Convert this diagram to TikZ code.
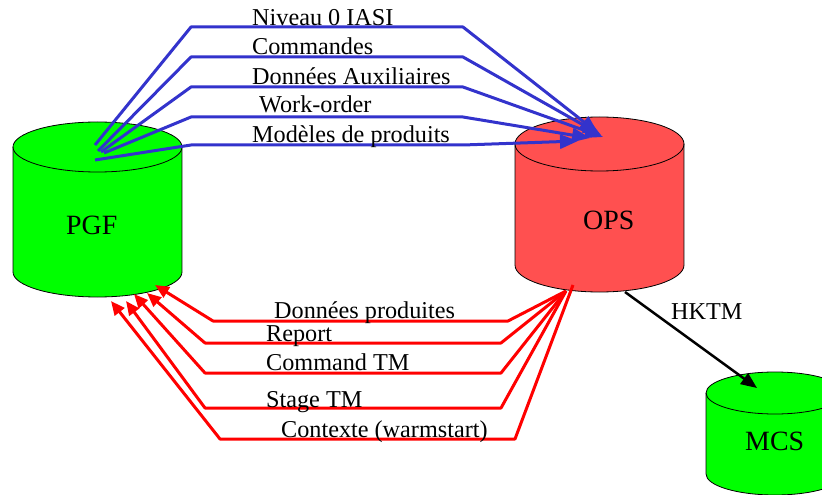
\documentclass[tikz,border=0pt]{standalone}
\usepackage{fontspec}
\setmainfont{Liberation Serif}
\usetikzlibrary{arrows.meta}
\definecolor{cgreen}{RGB}{0,255,0}
\definecolor{cops}{RGB}{255,80,80}
\definecolor{cblue}{RGB}{51,51,204}
\definecolor{cred}{RGB}{255,0,0}
% cx, top cy, bottom cy, rx, ry, colour
\newcommand\dbcyl[6]{%
  \fill[#6] ({#1-#4},#2) rectangle ({#1+#4},#3);
  \fill[#6] (#1,#3) ellipse[x radius=#4bp, y radius=#5bp];
  \fill[#6] (#1,#2) ellipse[x radius=#4bp, y radius=#5bp];
  \draw[cylline] ({#1-#4},#2) -- ({#1-#4},#3)
    arc[start angle=180, end angle=360, x radius=#4bp, y radius=#5bp] -- ({#1+#4},#2);
  \draw[cylline] (#1,#2) ellipse[x radius=#4bp, y radius=#5bp];
}
\begin{document}
\begin{tikzpicture}[x=1bp, y=-1bp, line join=round,
  lab/.style={font=\fontsize{24.3}{28}\selectfont, inner sep=0pt, anchor=base west},
  big/.style={font=\fontsize{28}{32}\selectfont, inner sep=0pt, anchor=base west},
  bluearr/.style={cblue, line width=3bp, -{Triangle[length=18bp,width=14bp]}},
  redarr/.style={cred, line width=3bp, -{Triangle[length=14bp,width=12bp]}},
  blackarr/.style={black, line width=2.5bp, -{Triangle[length=16bp,width=13bp]}},
  cylline/.style={black, line width=0.8bp}]
\useasboundingbox (0,0) rectangle (822,495);
\begin{scope}
  \clip (0,0) rectangle (822,495);
  \dbcyl{97.5}{147}{272}{84.5}{25}{cgreen}
  \dbcyl{599.5}{144}{265}{84.5}{27}{cops}
  \dbcyl{775}{393}{474}{69}{21}{cgreen}
\end{scope}
% cylinder labels
\node[big] (pgf) at (66,235) {PGF};
\node[big] (ops) at (583,230) {OPS};
\node[big] (mcs) at (745,450) {MCS};
% blue connector ends
\coordinate (p1) at (95,145);
\coordinate (p2) at (98,151);
\coordinate (p3) at (101,152);
\coordinate (p4) at (104,153);
\coordinate (p5) at (95,160);
\coordinate (o1) at (598,133);
\coordinate (o2) at (601,135);
\coordinate (o3) at (603,137);
\coordinate (o4) at (590,138);
\coordinate (o5) at (578,141);
\draw[bluearr] (p1) -- (191,27) -- (463,27) -- (o1);
\draw[bluearr] (p2) -- (191,57) -- (463,57) -- (o2);
\draw[bluearr] (p3) -- (191,87) -- (463,87) -- (o3);
\draw[bluearr] (p4) -- (191,117) -- (463,117) -- (o4);
\draw[bluearr] (p5) -- (191,145) -- (463,145) -- (o5);
\node[lab] (l1) at (252,26) {Niveau 0 IASI};
\node[lab] (l2) at (252,55) {Commandes};
\node[lab] (l3) at (252,85) {Données Auxiliaires};
\node[lab] (l4) at (259,113) {Work-order};
\node[lab] (l5) at (252,143) {Modèles de produits};
% red connector ends
\coordinate (ob) at (566,291);
\coordinate (ob5) at (573,285);
\coordinate (q1) at (155,285);
\coordinate (q2) at (147,293);
\coordinate (q3) at (134,294);
\coordinate (q4) at (126,301);
\coordinate (q5) at (111,301);
\draw[redarr] (ob) -- (508,321) -- (213,321) -- (q1);
\draw[redarr] (ob) -- (501,343) -- (205,343) -- (q2);
\draw[redarr] (ob) -- (501,373) -- (205,373) -- (q3);
\draw[redarr] (ob) -- (501,408) -- (205,408) -- (q4);
\draw[redarr] (ob5) -- (515,439) -- (220,439) -- (q5);
\node[lab] (r1) at (274,319) {Données produites};
\node[lab] (r2) at (266,341) {Report};
\node[lab] (r3) at (266,370) {Command TM};
\node[lab] (r4) at (266,407) {Stage TM};
\node[lab] (r5) at (281,437) {Contexte (warmstart)};
% HKTM
\coordinate (oh) at (625,292);
\coordinate (mt) at (757,388);
\draw[blackarr] (oh) -- (mt);
\node[lab] (hk) at (671,320) {HKTM};
\end{tikzpicture}
\end{document}
